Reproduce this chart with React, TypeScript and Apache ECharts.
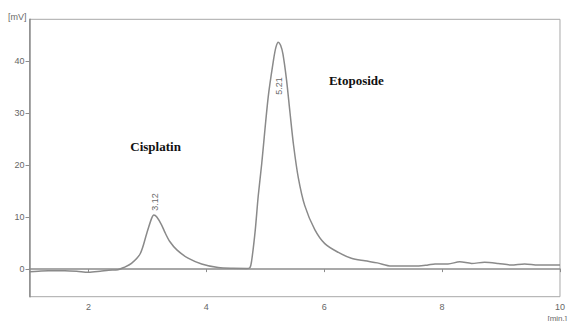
import React, { useEffect, useRef } from "react";
import * as echarts from "echarts";

// Retention time (min) and signal (mV)
const timeMin: number[] = [
  1.0, 1.15, 1.32, 1.6, 1.8, 2.0, 2.2, 2.34, 2.5, 2.6, 2.73, 2.88, 2.99, 3.07, 3.11, 3.16,
  3.24, 3.3, 3.38, 3.5, 3.69, 3.92, 4.2, 4.45, 4.68, 4.74, 4.77, 4.83, 4.88, 4.94, 5.05, 5.14,
  5.18, 5.22, 5.26, 5.3, 5.36, 5.42, 5.48, 5.56, 5.67, 5.84, 6.01, 6.24, 6.46, 6.69, 6.9,
  7.14, 7.25, 7.6, 7.76, 7.88, 8.1, 8.3, 8.5, 8.72, 8.95, 9.17, 9.4, 9.63, 10.0,
];
const signalMv: number[] = [
  -0.5, -0.4, -0.3, -0.3, -0.4, -0.6, -0.4, -0.2, -0.1, 0.3, 1.1, 3.0, 6.9, 9.7, 10.4, 10.0,
  8.5, 7.0, 5.3, 3.7, 2.1, 1.0, 0.3, 0.15, 0.13, 0.3, 1.7, 7.5, 14.0, 20.3, 33.1, 40.2,
  42.6, 43.6, 43.0, 41.3, 36.4, 30.0, 23.8, 17.6, 12.2, 7.6, 4.9, 3.2, 2.1, 1.6, 1.2,
  0.6, 0.6, 0.6, 0.8, 1.0, 1.0, 1.4, 1.1, 1.3, 1.1, 0.8, 1.0, 0.8, 0.8,
];
const xTicks: number[] = [2, 4, 6, 8, 10];
const yTicks: number[] = [0, 10, 20, 30, 40];

// Peak retention-time labels
const peakLabels: { text: string; x: number; y: number }[] = [
  { text: "3.12", x: 3.12, y: 11.2 },
  { text: "5.21", x: 5.21, y: 33.5 },
];
// Compound names
const compounds: { text: string; x: number; y: number }[] = [
  { text: "Cisplatin", x: 2.71, y: 23.5 },
  { text: "Etoposide", x: 6.08, y: 36.3 },
];

export default function App() {
  const ref = useRef<HTMLDivElement>(null);
  useEffect(() => {
    if (!ref.current) return;
    const chart = echarts.init(ref.current, undefined, { renderer: "svg" });
    const data = timeMin.map((t, i) => [t, signalMv[i]]);
    const baseGraphic: any[] = [
      {
        type: "text",
        left: 8,
        top: 12,
        style: { text: "[mV]", fill: "#6a6a6a", fontSize: 9, fontFamily: "Liberation Sans" },
      },
      {
        type: "text",
        right: 1,
        top: 314,
        style: { text: "[min.]", fill: "#6a6a6a", fontSize: 8, fontFamily: "Liberation Sans" },
      },
    ];
    chart.setOption({
      animation: false,
      grid: {
        left: 29.5,
        right: 3,
        top: 19.3,
        bottom: 24.3,
        show: true,
        borderColor: "#a8a8a8",
        borderWidth: 1,
        backgroundColor: "transparent",
      },
      xAxis: {
        type: "value",
        min: 1,
        max: 10,
        splitLine: { show: false },
        axisLine: { show: true, lineStyle: { color: "#8c8c8c", width: 1.5 } },
        axisTick: { show: true, length: 3, customValues: xTicks, lineStyle: { color: "#8c8c8c" } },
        axisLabel: {
          customValues: xTicks,
          color: "#666666",
          fontSize: 9,
          fontFamily: "Liberation Sans",
          margin: 6,
        },
      },
      yAxis: {
        type: "value",
        min: -5.3,
        max: 48,
        splitLine: { show: false },
        axisLine: { show: true, lineStyle: { color: "#8c8c8c", width: 1.5 } },
        axisTick: { show: true, length: 4, customValues: yTicks, lineStyle: { color: "#8c8c8c" } },
        axisLabel: {
          customValues: yTicks,
          color: "#666666",
          fontSize: 9,
          fontFamily: "Liberation Sans",
          margin: 5,
        },
      },
      series: [
        {
          type: "line",
          data,
          showSymbol: false,
          smooth: 0.3,
          lineStyle: { color: "#8a8a8a", width: 1.5 },
        },
      ],
      graphic: baseGraphic,
    });
    const extra: any[] = [];
    peakLabels.forEach((p) => {
      const [px, py] = chart.convertToPixel({ gridIndex: 0 }, [p.x, p.y]) as number[];
      extra.push({
        type: "text",
        x: px + 1,
        y: py,
        rotation: Math.PI / 2,
        style: {
          text: p.text,
          fill: "#6a6a6a",
          fontSize: 9,
          fontFamily: "Liberation Sans",
          align: "left",
          verticalAlign: "middle",
        },
      });
    });
    compounds.forEach((c) => {
      const [px, py] = chart.convertToPixel({ gridIndex: 0 }, [c.x, c.y]) as number[];
      extra.push({
        type: "text",
        x: px,
        y: py,
        style: {
          text: c.text,
          fill: "#111",
          fontSize: 13,
          fontWeight: "bold",
          fontFamily: "Liberation Serif",
          align: "left",
          verticalAlign: "middle",
        },
      });
    });
    chart.setOption({ graphic: [...baseGraphic, ...extra] });
    return () => chart.dispose();
  }, []);
  return (
    <div
      ref={ref}
      style={{ position: "fixed", left: 0, top: 0, width: 568, height: 321, background: "#fff" }}
    />
  );
}
